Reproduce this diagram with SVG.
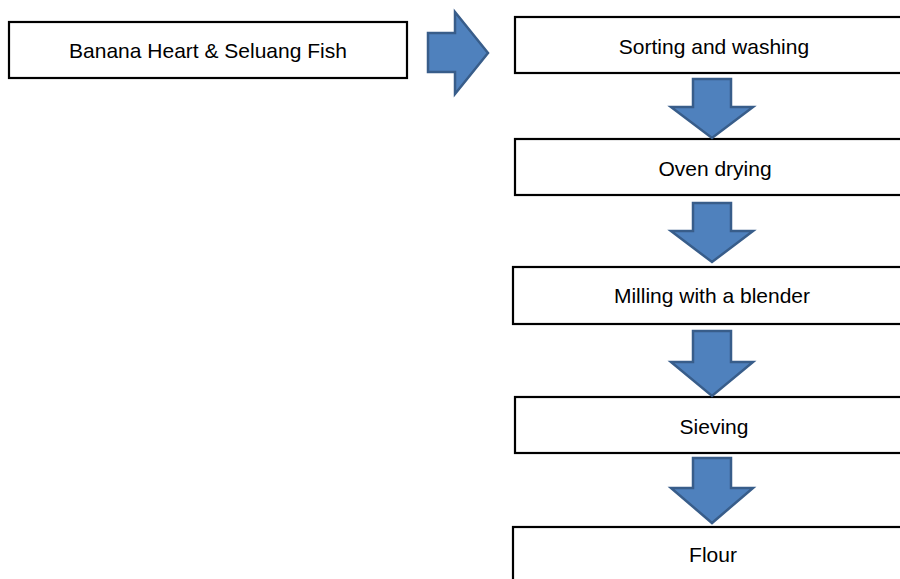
<svg xmlns="http://www.w3.org/2000/svg" width="900" height="579" viewBox="0 0 900 579">
<style>
.box{fill:#fff;stroke:#000;stroke-width:2.2}
.lbl{font-family:"Liberation Sans",Arial,sans-serif;font-size:21px;fill:#000;text-anchor:middle}
.arr{fill:#4F81BD;stroke:#385D8A;stroke-width:2.5;stroke-linejoin:miter}
</style>
<rect width="900" height="579" fill="#fff"/>
<g id="n-input"><rect class="box" x="9" y="22" width="398" height="56"/><text class="lbl" x="208" y="58">Banana Heart &amp; Seluang Fish</text></g>
<g id="n-sorting"><rect class="box" x="515" y="17" width="400" height="56"/><text class="lbl" x="714" y="54">Sorting and washing</text></g>
<g id="n-oven"><rect class="box" x="515" y="139" width="400" height="56"/><text class="lbl" x="715" y="176">Oven drying</text></g>
<g id="n-milling"><rect class="box" x="513" y="267" width="400" height="57"/><text class="lbl" x="712" y="303">Milling with a blender</text></g>
<g id="n-sieving"><rect class="box" x="515" y="397" width="400" height="56"/><text class="lbl" x="714" y="434">Sieving</text></g>
<g id="n-flour"><rect class="box" x="513" y="527" width="400" height="60"/><text class="lbl" x="713" y="562">Flour</text></g>
<g id="connectors">
<polygon class="arr" points="428,33 455,33 455,12 488,53 455,94 455,72 428,72"/>
<polygon class="arr" points="693,79 731,79 731,107 753,107 712,138 671,107 693,107"/>
<polygon class="arr" points="693,203 731,203 731,231 753,231 712,262 671,231 693,231"/>
<polygon class="arr" points="693,331 731,331 731,362 753,362 712,396 671,362 693,362"/>
<polygon class="arr" points="693,458 731,458 731,488 753,488 712,523 671,488 693,488"/>
</g>
</svg>
